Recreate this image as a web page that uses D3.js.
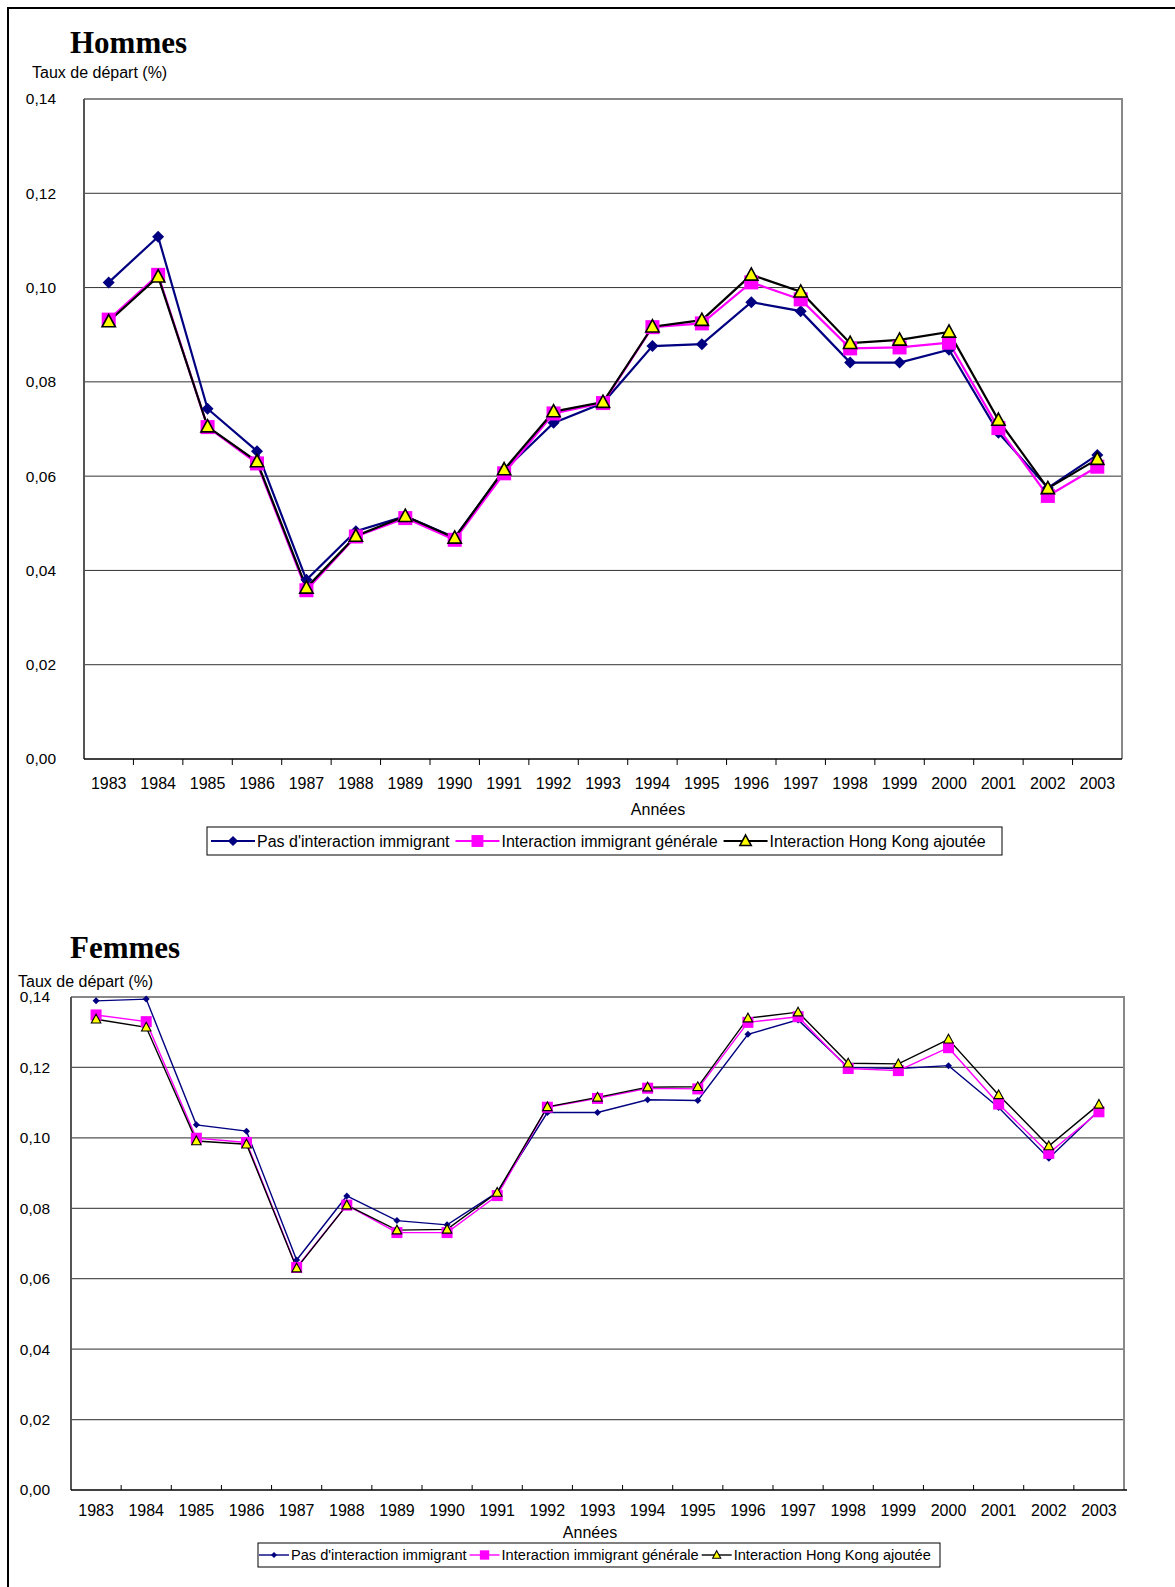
<!DOCTYPE html>
<html>
<head>
<meta charset="utf-8">
<script src="https://cdn.jsdelivr.net/npm/d3@7"></script>
<style>
  body { margin: 0; background: #fff; }
  svg { display: block; }
</style>
</head>
<body>
<svg id="chart" width="1175" height="1587"></svg>
<script>
// Données
const years = ['1983','1984','1985','1986','1987','1988','1989','1990','1991','1992','1993',
  '1994','1995','1996','1997','1998','1999','2000','2001','2002','2003'];
const yTicks = [0, 0.02, 0.04, 0.06, 0.08, 0.10, 0.12, 0.14];
const seriesNames = ["Pas d'interaction immigrant", 'Interaction immigrant générale', 'Interaction Hong Kong ajoutée'];

// Hommes
const hommesPasInteraction = [0.1011, 0.1108, 0.0743, 0.0653, 0.0380, 0.0483, 0.0515, 0.0470, 0.0612, 0.0713, 0.0755,
  0.0876, 0.0880, 0.0969, 0.0950, 0.0841, 0.0841, 0.0868, 0.0692, 0.0575, 0.0645];
const hommesInteractionGenerale = [0.0932, 0.1027, 0.0704, 0.0627, 0.0358, 0.0472, 0.0511, 0.0465, 0.0606, 0.0733, 0.0755,
  0.0916, 0.0924, 0.1011, 0.0975, 0.0871, 0.0873, 0.0883, 0.0702, 0.0558, 0.0620];
const hommesHongKong = [0.0928, 0.1023, 0.0705, 0.0631, 0.0363, 0.0473, 0.0515, 0.0469, 0.0614, 0.0737, 0.0757,
  0.0917, 0.0931, 0.1027, 0.0991, 0.0882, 0.0889, 0.0906, 0.0719, 0.0574, 0.0636];

// Femmes
const femmesPasInteraction = [0.1389, 0.1394, 0.1037, 0.1019, 0.0653, 0.0835, 0.0765, 0.0753, 0.0845, 0.1072, 0.1072,
  0.1108, 0.1106, 0.1294, 0.1335, 0.1200, 0.1197, 0.1205, 0.1086, 0.0942, 0.1078];
const femmesInteractionGenerale = [0.1349, 0.1330, 0.0999, 0.0987, 0.0632, 0.0809, 0.0731, 0.0731, 0.0836, 0.1087, 0.1112,
  0.1141, 0.1139, 0.1328, 0.1344, 0.1197, 0.1191, 0.1256, 0.1096, 0.0956, 0.1074];
const femmesHongKong = [0.1337, 0.1314, 0.0991, 0.0982, 0.0630, 0.0809, 0.0738, 0.0740, 0.0845, 0.1088, 0.1115,
  0.1144, 0.1145, 0.1340, 0.1357, 0.1212, 0.1210, 0.1280, 0.1122, 0.0977, 0.1095];

const svg = d3.select('#chart');
const fmt = d => d.toFixed(2).replace('.', ',');
const sans = '"Liberation Sans", Arial, sans-serif';

// Cadre extérieur
svg.append('path')
  .attr('d', 'M8,1587V8H1175')
  .attr('fill', 'none')
  .attr('stroke', '#000')
  .attr('stroke-width', 2);

function marker(g, type, size) {
  if (type === 0) {
    g.append('path')
      .attr('d', `M0,${-size}L${size},0L0,${size}L${-size},0Z`)
      .attr('fill', '#000080');
  } else if (type === 1) {
    g.append('rect')
      .attr('x', -size).attr('y', -size)
      .attr('width', size * 2).attr('height', size * 2)
      .attr('fill', '#ff00ff');
  } else {
    g.append('path')
      .attr('d', `M0,${-size}L${size * 0.95},${size * 0.75}L${-size * 0.95},${size * 0.75}Z`)
      .attr('fill', '#ffff00')
      .attr('stroke', '#000')
      .attr('stroke-width', size > 5 ? 1.6 : 1.1)
      .attr('stroke-linejoin', 'miter');
  }
}

function drawChart(c) {
  const x = d3.scaleBand().domain(years).range([c.left, c.right]);
  const y = d3.scaleLinear().domain([0, 0.14]).range([c.bottom, c.top]);

  // Titre
  svg.append('text')
    .attr('x', 70).attr('y', c.titleY)
    .attr('font-family', '"Liberation Serif", "Times New Roman", serif')
    .attr('font-weight', 'bold')
    .attr('font-size', 31)
    .text(c.title);
  svg.append('text')
    .attr('x', c.yTitleX).attr('y', c.yTitleY)
    .attr('font-family', sans)
    .attr('font-size', 16)
    .text('Taux de départ (%)');

  // Grille
  svg.append('g')
    .selectAll('line')
    .data(yTicks.filter(t => t > 0 && t < 0.14))
    .join('line')
    .attr('x1', c.left).attr('x2', c.right)
    .attr('y1', d => y(d)).attr('y2', d => y(d))
    .attr('stroke', c.gridColor)
    .attr('stroke-width', c.gridWidth);

  // Bordure du graphique
  svg.append('path')
    .attr('d', `M${c.left},${y(0.14)}H${c.right}V${c.bottom}`)
    .attr('fill', 'none')
    .attr('stroke', '#888')
    .attr('stroke-width', 2);
  svg.append('line')
    .attr('x1', c.left).attr('x2', c.left)
    .attr('y1', c.top).attr('y2', c.bottom)
    .attr('stroke', '#555')
    .attr('stroke-width', 2);

  // Axe Y
  svg.append('g')
    .selectAll('text')
    .data(yTicks)
    .join('text')
    .attr('x', c.yLabelX)
    .attr('y', d => y(d))
    .attr('dy', '0.35em')
    .attr('text-anchor', 'end')
    .attr('font-family', sans)
    .attr('font-size', 15.5)
    .text(fmt);

  // Axe X
  const xAxis = svg.append('g');
  xAxis.append('line')
    .attr('x1', c.left).attr('x2', c.right + c.axisOverhang)
    .attr('y1', c.bottom).attr('y2', c.bottom)
    .attr('stroke', '#000')
    .attr('stroke-width', 1.5);
  xAxis.selectAll('line.tick')
    .data(years.slice(1))
    .join('line')
    .attr('class', 'tick')
    .attr('x1', d => x(d)).attr('x2', d => x(d))
    .attr('y1', c.bottom).attr('y2', c.bottom + c.tickLen)
    .attr('stroke', '#000')
    .attr('stroke-width', 1);
  xAxis.selectAll('text')
    .data(years)
    .join('text')
    .attr('x', d => x(d) + x.bandwidth() / 2)
    .attr('y', c.xLabelY)
    .attr('text-anchor', 'middle')
    .attr('font-family', sans)
    .attr('font-size', 16)
    .text(d => d);
  svg.append('text')
    .attr('x', c.xTitleX)
    .attr('y', c.xTitleY)
    .attr('text-anchor', 'middle')
    .attr('font-family', sans)
    .attr('font-size', 16)
    .text('Années');

  // Séries
  const colors = ['#000080', '#ff00ff', '#000'];
  const line = d3.line()
    .x((d, i) => x(years[i]) + x.bandwidth() / 2)
    .y(d => y(d));
  c.series.forEach((vals, s) => {
    svg.append('path')
      .datum(vals)
      .attr('d', line)
      .attr('fill', 'none')
      .attr('stroke', colors[s])
      .attr('stroke-width', c.lineWidth);
  });
  c.series.forEach((vals, s) => {
    vals.forEach((v, i) => {
      const g = svg.append('g')
        .attr('transform', `translate(${x(years[i]) + x.bandwidth() / 2},${y(v)})`);
      marker(g, s, c.markerSizes[s]);
    });
  });

  // Légende
  const lg = svg.append('g');
  lg.append('rect')
    .attr('x', c.legendX).attr('y', c.legendY)
    .attr('width', c.legendW).attr('height', c.legendH)
    .attr('fill', '#fff')
    .attr('stroke', '#000')
    .attr('stroke-width', 1);
  let cx = c.legendX + c.legendPad;
  const cy = c.legendY + c.legendH / 2;
  seriesNames.forEach((name, s) => {
    lg.append('line')
      .attr('x1', cx).attr('x2', cx + c.sampleLen)
      .attr('y1', cy).attr('y2', cy)
      .attr('stroke', colors[s])
      .attr('stroke-width', c.lineWidth);
    const mg = lg.append('g').attr('transform', `translate(${cx + c.sampleLen / 2},${cy})`);
    marker(mg, s, c.markerSizes[s] * 0.85);
    cx += c.sampleLen + 2;
    const t = lg.append('text')
      .attr('x', cx).attr('y', cy)
      .attr('dy', '0.35em')
      .attr('font-family', sans)
      .attr('font-size', c.legendFont)
      .text(name);
    cx += t.node().getComputedTextLength() + c.legendGap;
  });
}

drawChart({
  title: 'Hommes', titleY: 53,
  yTitleX: 32, yTitleY: 78, yLabelX: 56,
  left: 84, right: 1122, top: 99, bottom: 759,
  gridColor: '#333', gridWidth: 1,
  tickLen: 6, axisOverhang: 0,
  xLabelY: 789, xTitleY: 815, xTitleX: 658,
  lineWidth: 2.2, markerSizes: [6, 7, 7],
  series: [hommesPasInteraction, hommesInteractionGenerale, hommesHongKong],
  legendX: 207, legendY: 827, legendH: 28, legendW: 795,
  legendPad: 4, sampleLen: 44, legendFont: 16, legendGap: 6
});

drawChart({
  title: 'Femmes', titleY: 958,
  yTitleX: 18, yTitleY: 987, yLabelX: 50,
  left: 71, right: 1124, top: 997, bottom: 1490,
  gridColor: '#555', gridWidth: 1.3,
  tickLen: -5, axisOverhang: 3,
  xLabelY: 1516, xTitleY: 1538, xTitleX: 590,
  lineWidth: 1.4, markerSizes: [3.5, 5.5, 5],
  series: [femmesPasInteraction, femmesInteractionGenerale, femmesHongKong],
  legendX: 258, legendY: 1543, legendH: 24, legendW: 682,
  legendPad: 1, sampleLen: 30, legendFont: 14.6, legendGap: 3
});
</script>
</body>
</html>
